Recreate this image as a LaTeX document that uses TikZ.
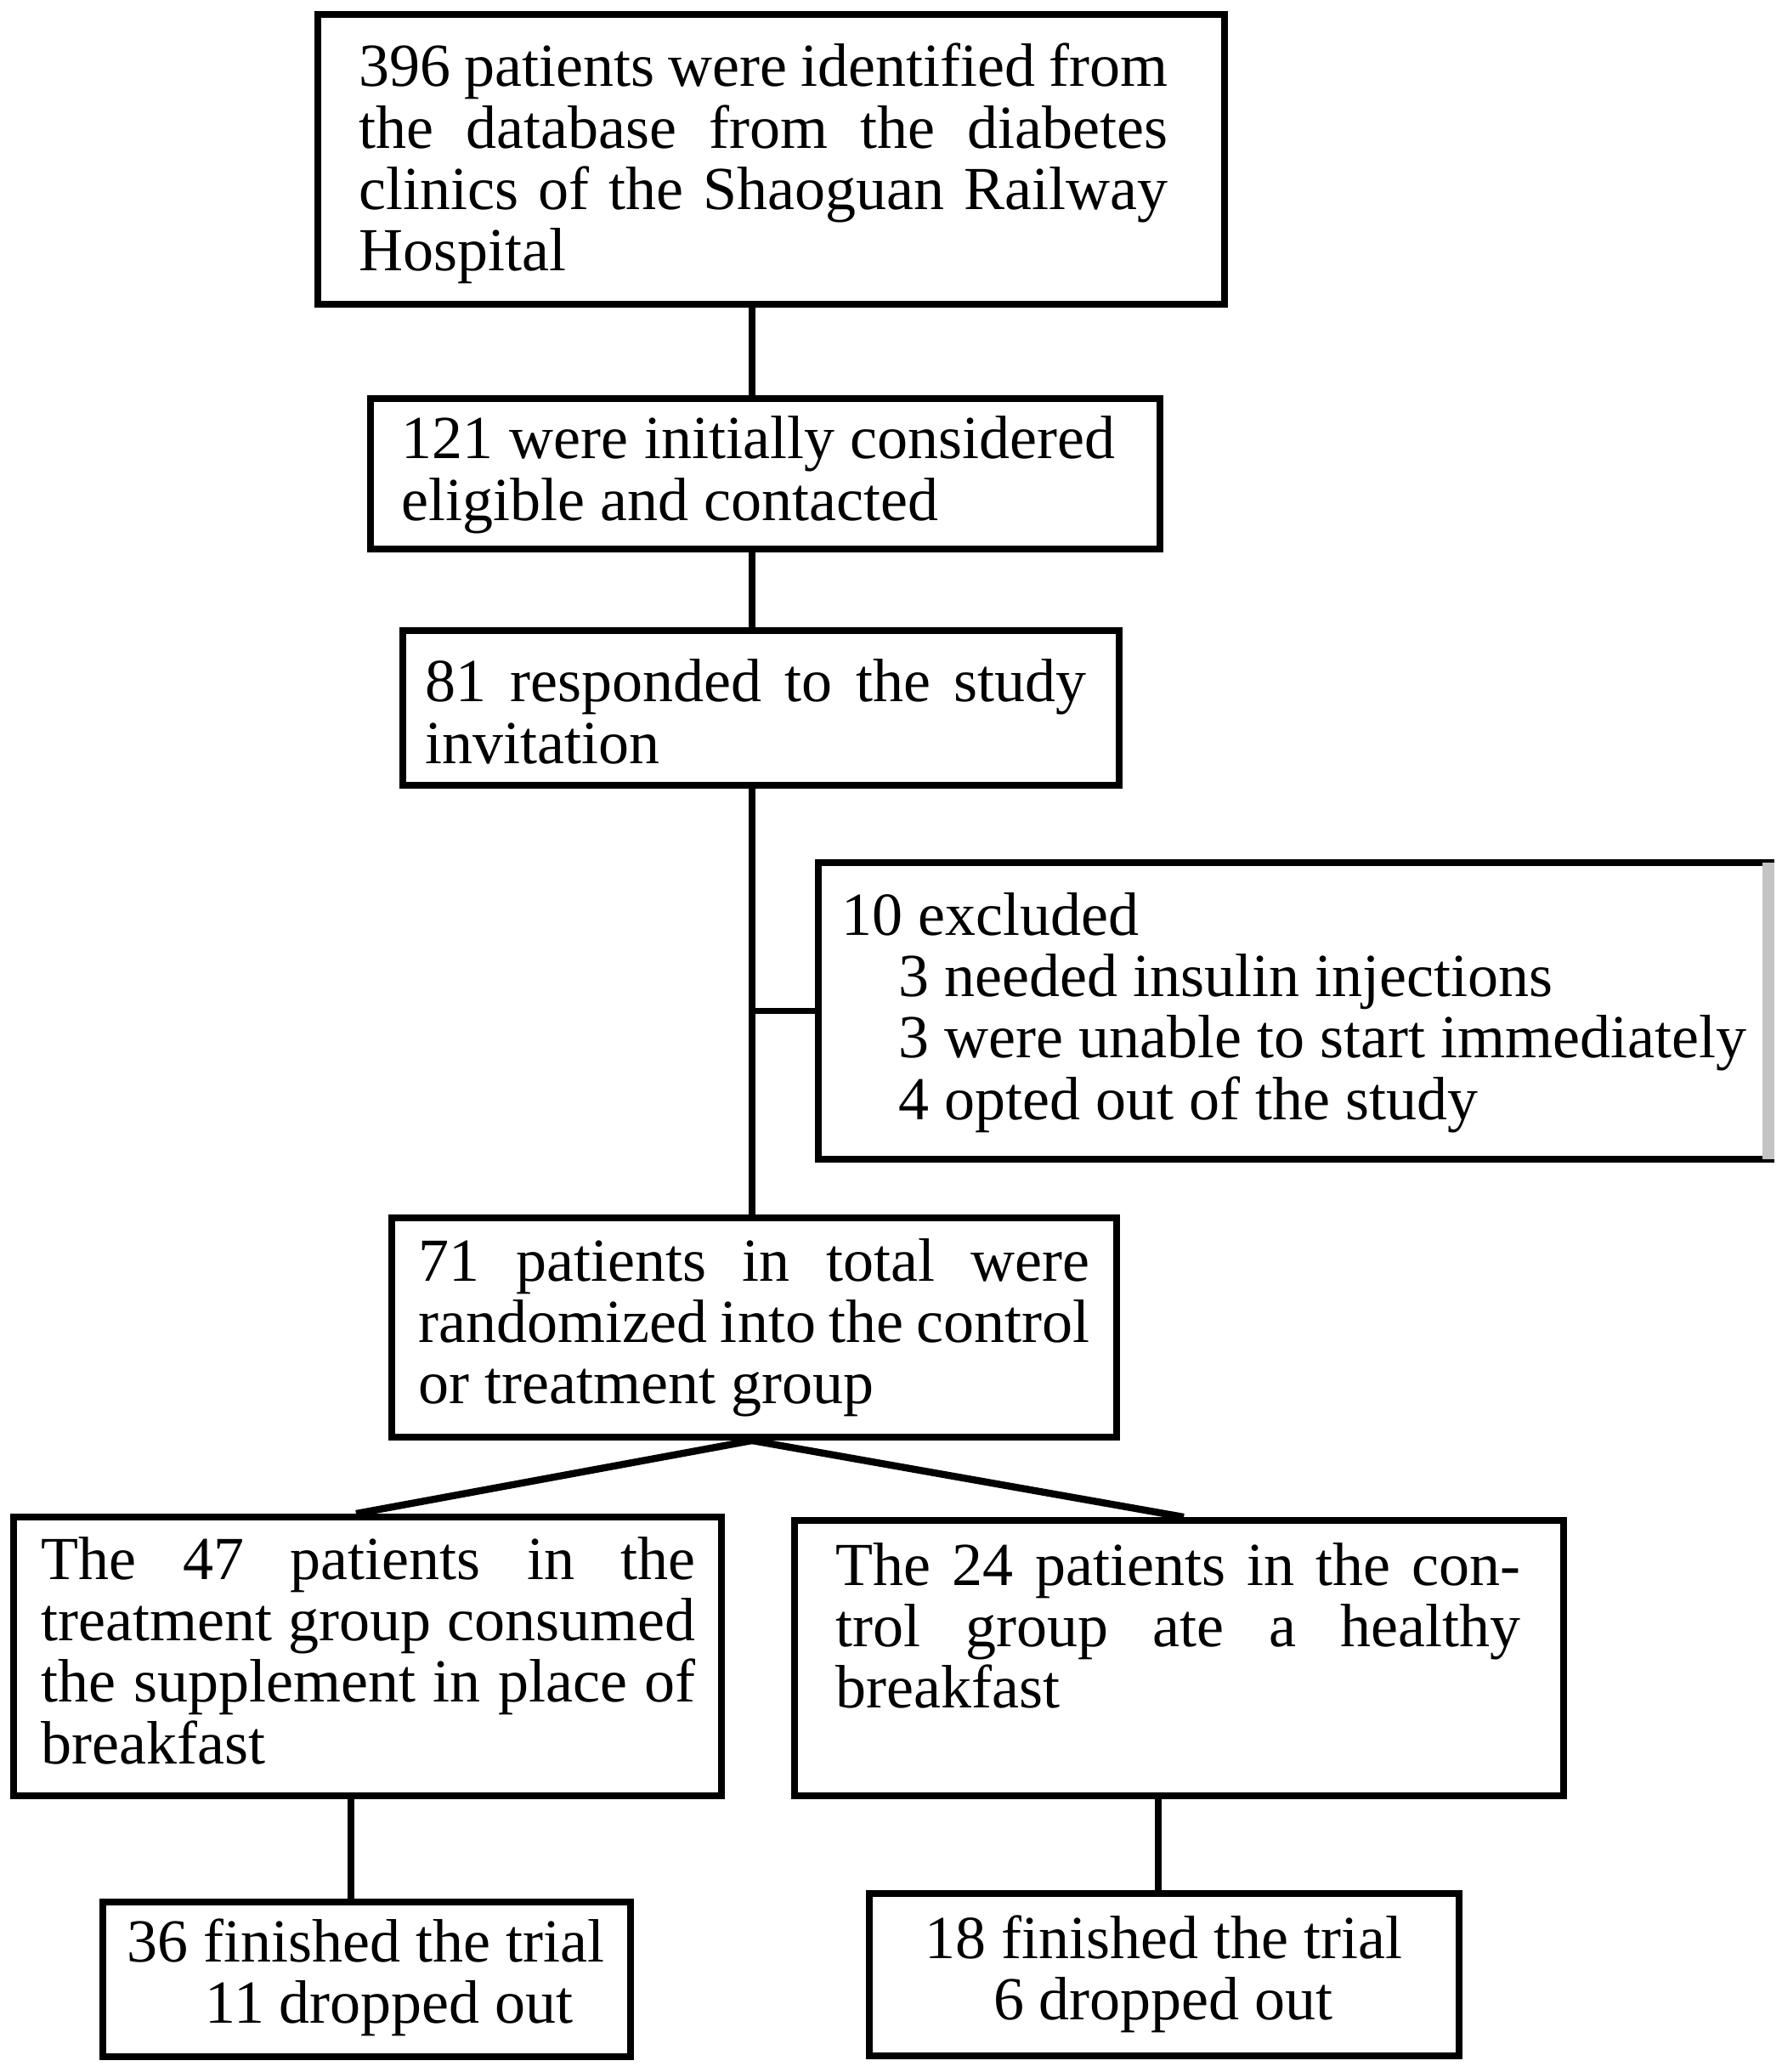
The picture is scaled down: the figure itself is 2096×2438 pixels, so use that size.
\documentclass[tikz,border=0pt]{standalone}
\usepackage{fontspec}
\setmainfont{Liberation Serif}
\usetikzlibrary{fit}
\newcommand\fsz{\fontsize{21.6pt}{21.7pt}\selectfont}
\newcommand\jl[2]{\makebox[#1][s]{#2}}
\begin{document}
\begin{tikzpicture}[x=0.3pt,y=-0.3pt,
  frame/.style={draw=black, line width=2.4pt, inner sep=0pt, rectangle},
  link/.style={draw=black, line width=2.2pt},
  slant/.style={draw=black, line width=2.5pt},
  graybar/.style={draw=black!23, line width=4.2pt},
  txt/.style={inner sep=0pt, anchor=base west, font=\fsz},
  ctxt/.style={inner sep=0pt, anchor=base, font=\fsz}]
\useasboundingbox (0,0) rectangle (2096,2438);
\fill[white] (0,0) rectangle (2096,2438);

% boxes
\node[frame, fit={(374,17)(1441,358)}] (b1) {};
\node[frame, fit={(436,469)(1365,646)}] (b2) {};
\node[frame, fit={(474,742)(1317,924)}] (b3) {};
\node[inner sep=0pt, fit={(964,1016)(2080,1363)}] (b4) {};
\draw[frame] ([xshift=2.1pt]b4.north east) -- (b4.north west) -- (b4.south west) -- ([xshift=2.1pt]b4.south east);
\draw[graybar] (b4.north east) -- (b4.south east);
\node[frame, fit={(461,1433)(1314,1691)}] (b5) {};
\node[frame, fit={(16,1785)(849,2113)}] (b6) {};
\node[frame, fit={(935,1789)(1840,2113)}] (b7) {};
\node[frame, fit={(121,2238)(742,2420)}] (b8) {};
\node[frame, fit={(1023,2228)(1717,2419)}] (b9) {};

% connectors
\coordinate (cx) at (885,0);
\coordinate (dl) at (419,0);
\coordinate (dr) at (1393,0);
\coordinate (cl) at (413,0);
\coordinate (cr) at (1363,0);
\draw[link] (b1.south -| cx) -- (b2.north -| cx);
\draw[link] (b2.south -| cx) -- (b3.north -| cx);
\draw[link] (b3.south -| cx) -- (b5.north -| cx);
\draw[link] (b4.west -| cx) -- (b4.west);
\draw[slant] (b5.south -| cx) -- (b6.north -| dl);
\draw[slant] (b5.south -| cx) -- (b7.north -| dr);
\draw[link] (b6.south -| cl) -- (b8.north -| cl);
\draw[link] (b7.south -| cr) -- (b9.north -| cr);

% texts
\node[txt] (t1) at (422,102) {\parbox[t]{285.6pt}{\jl{285.6pt}{396 patients were identified from}\\\jl{285.6pt}{the database from the diabetes}\\\jl{285.6pt}{clinics of the Shaoguan Railway}\\Hospital}};
\node[txt] (t2) at (472,540) {\parbox[t]{252pt}{\jl{252pt}{121 were initially considered}\\eligible and contacted}};
\node[txt] (t3) at (500,826) {\parbox[t]{233.4pt}{\jl{233.4pt}{81 responded to the study}\\invitation}};
\node[txt] (t4) at (990,1100) {\parbox[t]{330pt}{10 excluded\\\hspace*{20.1pt}3 needed insulin injections\\\hspace*{20.1pt}3 were unable to start immediately\\\hspace*{20.1pt}4 opted out of the study}};
\node[txt] (t5) at (492,1507) {\parbox[t]{237pt}{\jl{237pt}{71 patients in total were}\\\jl{237pt}{randomized into the control}\\or treatment group}};
\node[txt] (t6) at (48,1858) {\parbox[t]{231pt}{\jl{231pt}{The 47 patients in the}\\\jl{231pt}{treatment group consumed}\\\jl{231pt}{the supplement in place of}\\breakfast}};
\node[txt] (t7) at (983,1865) {\parbox[t]{241.8pt}{\jl{241.8pt}{The 24 patients in the con-}\\\jl{241.8pt}{trol group ate a healthy}\\breakfast}};
\node[txt] (t8) at (149,2308) {\parbox[t]{200pt}{36 finished the trial\\\hspace*{27.6pt}11 dropped out}};
\node[ctxt] (t9) at (1369,2304) {\parbox[t]{200pt}{\centering 18 finished the trial\\6 dropped out}};
\end{tikzpicture}
\end{document}
